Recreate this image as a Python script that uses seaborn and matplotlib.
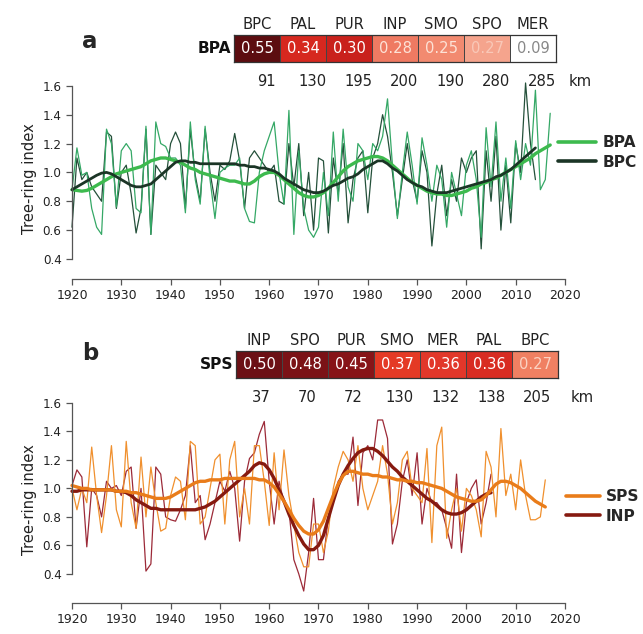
import numpy as np
import pandas as pd
import seaborn as sns
import matplotlib.pyplot as plt
from matplotlib import font_manager
from matplotlib.colors import ListedColormap

## Tree-ring index chronologies (panel a: BPA vs BPC, panel b: SPS vs INP)
## with correlation tables and distances to neighbouring sites.

# ---- data ----
bpa_years = np.arange(1920, 2018)
bpa_raw = [0.88, 1.17, 0.98, 1.00, 0.75, 0.62, 0.57, 1.30, 1.20, 0.76,
           1.15, 1.20, 1.15, 0.75, 0.72, 1.32, 0.57, 1.35, 1.20, 1.18,
           1.10, 1.10, 1.05, 0.72, 1.35, 0.95, 0.78, 1.32, 0.95, 0.68,
           1.00, 1.03, 1.05, 1.05, 1.10, 0.75, 0.66, 0.65, 1.00, 1.15,
           1.25, 1.35, 1.00, 0.78, 1.43, 0.57, 1.15, 0.75, 0.60, 0.55,
           0.62, 1.00, 0.70, 1.28, 0.80, 1.30, 0.90, 0.80, 1.20, 1.15,
           0.95, 1.20, 1.15, 1.25, 1.51, 1.05, 0.68, 1.00, 1.28, 1.05,
           0.78, 1.24, 1.05, 0.80, 1.05, 0.95, 0.62, 1.00, 0.85, 0.70,
           1.05, 1.15, 0.95, 0.55, 1.31, 0.90, 1.35, 0.80, 1.10, 0.75,
           1.22, 0.95, 1.20, 1.05, 1.57, 0.88, 0.95, 1.41]
bpa_smooth = [0.88, 0.875, 0.87, 0.875, 0.89, 0.91, 0.93, 0.95, 0.97, 0.99,
              1.00, 1.01, 1.02, 1.03, 1.04, 1.06, 1.08, 1.09, 1.10, 1.10,
              1.09, 1.08, 1.07, 1.05, 1.03, 1.02, 1.00, 0.99, 0.98, 0.97,
              0.96, 0.95, 0.94, 0.94, 0.93, 0.92, 0.92, 0.94, 0.97, 0.99,
              1.00, 1.00, 0.98, 0.95, 0.92, 0.89, 0.86, 0.84, 0.83, 0.83,
              0.84, 0.86, 0.89, 0.93, 0.97, 1.01, 1.04, 1.06, 1.08, 1.09,
              1.10, 1.11, 1.11, 1.10, 1.08, 1.05, 1.02, 0.99, 0.96, 0.93,
              0.91, 0.89, 0.87, 0.86, 0.85, 0.85, 0.84, 0.84, 0.85, 0.86,
              0.87, 0.89, 0.90, 0.92, 0.93, 0.95, 0.96, 0.98, 1.00, 1.02,
              1.04, 1.06, 1.08, 1.10, 1.13, 1.15, 1.17, 1.19]

bpc_years = np.arange(1920, 2015)
bpc_raw = [0.62, 1.10, 0.95, 1.00, 0.90, 0.85, 0.80, 1.28, 1.25, 0.75,
           1.00, 1.05, 0.85, 0.58, 0.75, 1.30, 0.57, 1.05, 1.00, 0.95,
           1.20, 1.28, 1.20, 0.75, 1.30, 0.98, 0.80, 1.30, 1.00, 0.80,
           1.05, 1.02, 1.08, 1.27, 1.08, 0.75, 1.10, 1.15, 1.10, 1.05,
           1.00, 1.05, 0.80, 0.78, 1.20, 0.90, 1.20, 0.70, 1.00, 0.60,
           1.10, 1.08, 0.58, 1.10, 0.85, 1.20, 0.65, 0.95, 1.10, 1.15,
           0.72, 1.10, 1.20, 1.40, 1.25, 1.00, 0.70, 0.95, 1.20, 0.95,
           0.80, 1.15, 1.00, 0.49, 0.85, 1.05, 0.70, 0.95, 0.80, 1.10,
           1.00, 1.10, 1.15, 0.47, 1.15, 0.80, 1.25, 0.60, 1.05, 0.65,
           1.20, 1.00, 1.62, 1.20, 0.95]
bpc_smooth = [0.88, 0.90, 0.92, 0.94, 0.96, 0.98, 0.995, 1.00, 0.99, 0.97,
              0.95, 0.93, 0.91, 0.90, 0.90, 0.91, 0.92, 0.95, 0.98, 1.01,
              1.04, 1.07, 1.08, 1.08, 1.07, 1.07, 1.06, 1.06, 1.06, 1.06,
              1.06, 1.06, 1.06, 1.06, 1.05, 1.05, 1.04, 1.04, 1.03, 1.03,
              1.02, 1.01, 0.99, 0.96, 0.94, 0.92, 0.90, 0.88, 0.87, 0.86,
              0.86, 0.87, 0.89, 0.91, 0.92, 0.94, 0.96, 0.97, 0.99, 1.02,
              1.04, 1.06, 1.08, 1.08, 1.06, 1.03, 1.01, 0.98, 0.95, 0.93,
              0.91, 0.90, 0.88, 0.87, 0.86, 0.86, 0.86, 0.87, 0.88, 0.89,
              0.90, 0.91, 0.92, 0.93, 0.94, 0.95, 0.97, 0.98, 1.00, 1.02,
              1.05, 1.08, 1.11, 1.14, 1.17]

sps_years = np.arange(1920, 2017)
sps_raw = [1.00, 0.85, 1.00, 0.90, 1.29, 0.95, 0.69, 0.95, 1.30, 0.85,
           0.73, 1.33, 0.90, 0.72, 1.22, 0.80, 1.15, 0.90, 0.70, 0.72,
           0.95, 1.08, 1.05, 0.78, 1.33, 1.30, 0.75, 0.80, 1.00, 1.20,
           1.24, 0.75, 1.20, 1.33, 0.80, 1.00, 0.75, 1.30, 1.30, 1.05,
           0.74, 1.25, 0.85, 1.27, 0.95, 0.75, 0.55, 0.45, 0.45, 0.75,
           0.75, 0.55, 0.70, 1.00, 1.15, 1.26, 1.20, 1.05, 1.30, 1.00,
           0.85, 0.95, 1.05, 1.30, 1.10, 0.75, 0.90, 1.20, 1.26, 1.00,
           0.95, 0.90, 1.28, 0.62, 1.30, 1.43, 0.65, 0.85, 1.00, 0.70,
           1.00, 0.95, 0.85, 0.66, 1.26, 1.15, 0.80, 1.42, 0.95, 1.10,
           0.85, 1.20, 0.95, 0.78, 0.78, 0.80, 1.06]
sps_smooth = [1.02, 1.01, 1.00, 1.00, 0.99, 0.99, 0.99, 0.99, 0.99, 0.98,
              0.98, 0.98, 0.97, 0.97, 0.96, 0.95, 0.94, 0.93, 0.93, 0.93,
              0.94, 0.96, 0.98, 1.00, 1.02, 1.04, 1.05, 1.05, 1.06, 1.06,
              1.06, 1.07, 1.07, 1.07, 1.07, 1.07, 1.07, 1.07, 1.06, 1.06,
              1.04, 1.01, 0.96, 0.91, 0.85, 0.79, 0.74, 0.70, 0.68, 0.68,
              0.71, 0.77, 0.86, 0.95, 1.03, 1.09, 1.12, 1.12, 1.11, 1.10,
              1.10, 1.09, 1.09, 1.08, 1.08, 1.07, 1.06, 1.06, 1.05, 1.05,
              1.04, 1.04, 1.03, 1.02, 1.01, 1.00, 0.98, 0.96, 0.94, 0.93,
              0.92, 0.91, 0.91, 0.92, 0.95, 0.99, 1.03, 1.05, 1.05, 1.04,
              1.02, 1.00, 0.97, 0.94, 0.91, 0.89, 0.87]

inp_years = np.arange(1920, 2006)
inp_raw = [1.02, 1.13, 1.08, 0.59, 1.00, 0.95, 0.80, 1.05, 1.00, 1.02,
           0.95, 1.12, 1.15, 0.72, 1.00, 0.42, 0.47, 1.15, 1.10, 0.80,
           0.78, 0.77, 0.85, 0.95, 1.30, 0.90, 0.95, 0.64, 0.75, 0.90,
           1.05, 0.98, 1.12, 1.00, 0.63, 1.05, 1.21, 1.25, 1.38, 1.47,
           1.05, 0.75, 1.05, 0.90, 0.85, 0.50, 0.40, 0.28, 0.55, 0.93,
           0.50, 0.50, 0.80, 0.90, 1.05, 1.10, 1.10, 1.36, 0.88, 1.25,
           1.30, 1.20, 1.48, 1.48, 1.35, 0.61, 0.75, 1.05, 1.20, 0.95,
           1.25, 0.75, 1.00, 0.90, 0.90, 0.85, 0.72, 0.58, 1.10, 0.55,
           0.90, 1.00, 1.06, 0.75, 0.90, 1.10]
inp_smooth = [0.98, 0.98, 0.99, 0.99, 0.99, 0.99, 0.99, 0.99, 0.99, 0.98,
              0.98, 0.97, 0.95, 0.92, 0.90, 0.88, 0.86, 0.86, 0.85, 0.85,
              0.85, 0.85, 0.85, 0.85, 0.85, 0.85, 0.86, 0.87, 0.89, 0.91,
              0.94, 0.97, 1.00, 1.03, 1.06, 1.09, 1.12, 1.16, 1.18, 1.17,
              1.13, 1.07, 0.99, 0.91, 0.82, 0.74, 0.67, 0.61, 0.57, 0.57,
              0.60, 0.67, 0.79, 0.91, 1.02, 1.10, 1.16, 1.21, 1.25, 1.27,
              1.28, 1.28, 1.26, 1.23, 1.19, 1.15, 1.12, 1.08, 1.05, 1.02,
              0.99, 0.96, 0.93, 0.91, 0.88, 0.85, 0.83, 0.82, 0.82, 0.83,
              0.85, 0.88, 0.91, 0.94, 0.96, 0.97]

# correlation tables
sites_a = ["BPC", "PAL", "PUR", "INP", "SMO", "SPO", "MER"]
corr_a = [0.55, 0.34, 0.30, 0.28, 0.25, 0.27, 0.09]
dist_a = [91, 130, 195, 200, 190, 280, 285]
cell_colors_a = ["#5c0d10", "#d6281f", "#c9211c", "#ef7a62", "#f28a70", "#f5a48d", "#ffffff"]
text_colors_a = ["white", "white", "white", "#fde2d6", "#fde2d6", "#f9c8b8", "#888888"]

sites_b = ["INP", "SPO", "PUR", "SMO", "MER", "PAL", "BPC"]
corr_b = [0.50, 0.48, 0.45, 0.37, 0.36, 0.36, 0.27]
dist_b = [37, 70, 72, 130, 132, 138, 205]
cell_colors_b = ["#6c1015", "#7b1216", "#871418", "#e43a25", "#e2372a", "#d82c22", "#f08062"]
text_colors_b = ["white", "white", "white", "white", "white", "white", "#fbd2c2"]

# ---- style ----
sns.set_style("white")
available = {f.name for f in font_manager.fontManager.ttflist}
narrow = "Liberation Sans Narrow" in available
base_font = "Liberation Sans Narrow" if narrow else "DejaVu Sans"
plt.rcParams["font.family"] = [base_font, "DejaVu Sans"]
k = 1.0 if narrow else 0.82  # shrink sizes when falling back to a wide font

fig = plt.figure(figsize=(6.43, 6.34), dpi=100)
fig.patch.set_facecolor("white")
W, H = 643, 634


def add_legend(ax, handles, labels, anchor, hlen):
    leg = ax.legend(handles, labels, loc="upper left", bbox_to_anchor=anchor,
                    bbox_transform=fig.transFigure, frameon=False, borderpad=0,
                    borderaxespad=0, handlelength=hlen, handletextpad=0.4,
                    labelspacing=0.3, prop={"weight": "bold", "size": 13.5 * k,
                                            "family": [base_font, "DejaVu Sans"]})
    for line in leg.get_lines():
        line.set_linewidth(2.6)
    return leg


def ts_panel(rect, ylim, series):
    ax = fig.add_axes(rect)
    # raw series first, smooth lines on top
    for yrs, vals, col, lw, lab in series:
        sns.lineplot(x=yrs, y=vals, color=col, linewidth=lw, ax=ax,
                     label=lab, legend=False, clip_on=False)
    ax.set_xlim(1920, 2020)
    ax.set_ylim(*ylim)
    for s in ["top", "right"]:
        ax.spines[s].set_visible(False)
    ax.spines["left"].set_bounds(0.4, 1.6)
    ax.spines["bottom"].set_bounds(1920, 2020)
    for s in ["left", "bottom"]:
        ax.spines[s].set_color("#555555")
        ax.spines[s].set_linewidth(0.9)
    ax.set_xticks(np.arange(1920, 2021, 10))
    ax.set_yticks(np.arange(0.4, 1.61, 0.2))
    ax.set_yticklabels([f"{v:.1f}" for v in np.arange(0.4, 1.61, 0.2)])
    ax.tick_params(direction="out", length=4, width=0.9, color="#555555",
                   labelsize=11 * k, colors="#222222", left=True, bottom=True)
    ax.tick_params(axis="y", labelsize=10.5 * k)
    ax.set_ylabel("Tree-ring index", fontsize=13 * k, color="#222222", labelpad=4)
    ax.set_xlabel("")
    return ax


def corr_table(rect, station, sites, corr, dist, cell_colors, text_colors, dist_shift):
    ax = fig.add_axes(rect)
    idx = np.arange(len(sites)).reshape(1, -1)
    sns.heatmap(idx, cmap=ListedColormap(cell_colors), vmin=-0.5, vmax=len(sites) - 0.5,
                annot=np.array([corr]), fmt=".2f", cbar=False, linewidths=0.7,
                linecolor="#444444", xticklabels=sites, yticklabels=[station], ax=ax,
                annot_kws={"size": 13 * k})
    for t, c in zip(ax.texts, text_colors):
        t.set_color(c)
    for s in ax.spines.values():
        s.set_visible(True)
        s.set_color("#333333")
        s.set_linewidth(0.9)
    ax.xaxis.tick_top()
    ax.tick_params(length=0, pad=2)
    ax.set_xticklabels(sites, fontsize=13 * k, color="#222222", rotation=0)
    ax.set_yticklabels([station], fontsize=13.5 * k, fontweight="bold", rotation=0,
                       color="#111111")
    for i, d in enumerate(dist):
        ax.text(i + 0.5 + dist_shift, 1.72, str(d), ha="center", va="center",
                fontsize=13 * k, color="#222222")
    ax.text(len(sites) + 0.28, 1.72, "km", ha="left", va="center",
            fontsize=13 * k, color="#222222")
    ax.set_xlabel("")
    ax.set_ylabel("")
    return ax


# panel a
ax_a = ts_panel([72 / W, 1 - 279 / H, 493 / W, 200.2 / H], (0.261, 1.649),
                [(bpc_years, bpc_raw, "#24503a", 0.9, None),
                 (bpa_years, bpa_raw, "#35a866", 0.9, None),
                 (bpa_years, bpa_smooth, "#3dba4e", 2.4, "BPA"),
                 (bpc_years, bpc_smooth, "#1b3526", 2.0, "BPC")])
h, l = ax_a.get_legend_handles_labels()
add_legend(ax_a, h, l, (558 / W, 1 - 135 / H), 2.5)

# panel b
ax_b = ts_panel([72 / W, 1 - 603 / H, 493 / W, 207.1 / H], (0.196, 1.649),
                [(inp_years, inp_raw, "#9c2a38", 0.9, None),
                 (sps_years, sps_raw, "#f0902e", 0.9, None),
                 (inp_years, inp_smooth, "#861a10", 2.4, "INP"),
                 (sps_years, sps_smooth, "#e97c1a", 2.4, "SPS")])
h, l = ax_b.get_legend_handles_labels()
add_legend(ax_b, [h[1], h[0]], [l[1], l[0]], (566 / W, 1 - 489 / H), 2.2)

corr_table([234 / W, 1 - 62 / H, 322 / W, 27 / H], "BPA", sites_a, corr_a, dist_a,
           cell_colors_a, text_colors_a, 0.2)
corr_table([236 / W, 1 - 378 / H, 322 / W, 27 / H], "SPS", sites_b, corr_b, dist_b,
           cell_colors_b, text_colors_b, 0.05)

fig.text(90 / W, 1 - 42 / H, "a", fontsize=20 * k, fontweight="bold", ha="center", va="center")
fig.text(90 / W, 1 - 353 / H, "b", fontsize=20 * k, fontweight="bold", ha="center", va="center")

fig.savefig("out.png", dpi=100, facecolor="white")
